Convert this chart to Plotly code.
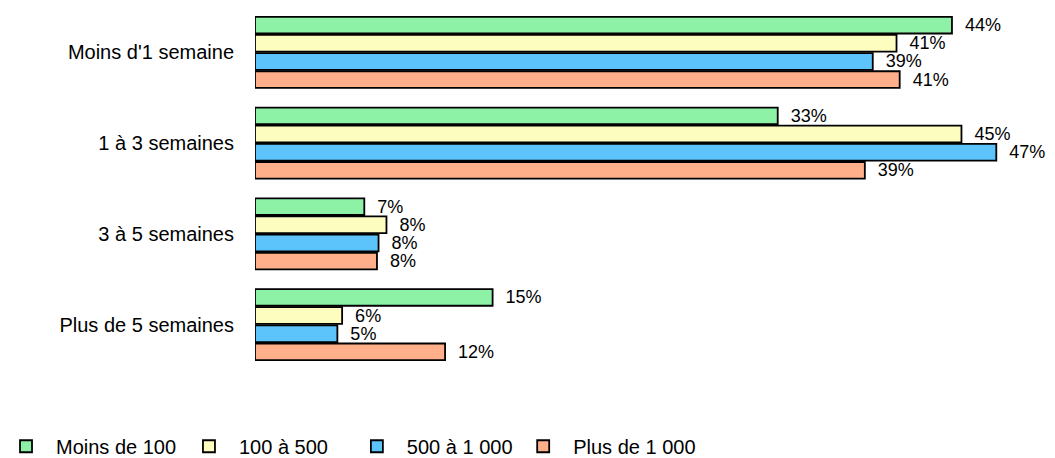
import plotly.graph_objects as go

categories = ["Moins d'1 semaine", "1 à 3 semaines", "3 à 5 semaines", "Plus de 5 semaines"]
series_names = ["Moins de 100", "100 à 500", "500 à 1 000", "Plus de 1 000"]
moins_100 = [44.0, 33.0, 6.9, 15.0]
de_100_500 = [40.5, 44.6, 8.3, 5.5]
de_500_1000 = [39.0, 46.8, 7.8, 5.2]
plus_1000 = [40.7, 38.5, 7.7, 12.0]
labels_moins_100 = ["44%", "33%", "7%", "15%"]
labels_100_500 = ["41%", "45%", "8%", "6%"]
labels_500_1000 = ["39%", "47%", "8%", "5%"]
labels_plus_1000 = ["41%", "39%", "8%", "12%"]

values = [moins_100, de_100_500, de_500_1000, plus_1000]
labels = [labels_moins_100, labels_100_500, labels_500_1000, labels_plus_1000]
colors = ["#8DF2A6", "#FDFDC0", "#5CC3FB", "#FFB08A"]
legend_ids = ["legend", "legend2", "legend3", "legend4"]
legend_x = [-0.327, -0.096, 0.116, 0.326]

fig = go.Figure()
for name, vals, labs, col, lid in zip(series_names, values, labels, colors, legend_ids):
    fig.add_trace(go.Bar(
        y=categories, x=vals, name=name, orientation="h", legend=lid,
        text=["  " + t for t in labs], textposition="outside",
        textfont=dict(size=18, color="black"),
        constraintext="none", cliponaxis=False,
        marker=dict(color=col, line=dict(color="black", width=1.8)),
    ))

legend_common = dict(orientation="h", y=-0.21, xanchor="left", yanchor="middle",
                     font=dict(size=20), itemwidth=50, bgcolor="rgba(0,0,0,0)")

fig.update_layout(
    width=1055, height=458,
    barmode="group", bargap=0.2, bargroupgap=0.08,
    paper_bgcolor="white", plot_bgcolor="white",
    font=dict(family="Liberation Sans, Arial, sans-serif", size=19, color="black"),
    margin=dict(l=255, r=8, t=7, b=88, autoexpand=False),
    xaxis=dict(range=[0, 50], showgrid=False, zeroline=False, showticklabels=False,
               showline=False, automargin=False),
    yaxis=dict(autorange="reversed", showgrid=False, zeroline=False, showline=False,
               automargin=False, ticks="", ticklabelstandoff=20, tickfont=dict(size=20)),
    showlegend=True,
)
for lid, lx in zip(legend_ids, legend_x):
    fig.update_layout({lid: dict(x=lx, **legend_common)})

fig.write_html("out.html", config={"displayModeBar": False},
               post_script="document.body.style.margin='0';document.body.style.padding='0';")
